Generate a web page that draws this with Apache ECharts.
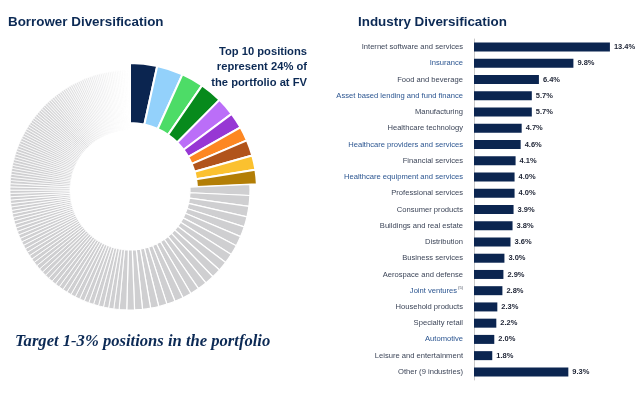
<!DOCTYPE html>
<html><head><meta charset="utf-8">
<script src="https://cdn.jsdelivr.net/npm/echarts@6/dist/echarts.min.js"></script>
<style>html,body{margin:0;padding:0;background:#fff}#c{width:640px;height:393px}</style>
</head><body><div id="c"></div>
<script>
// ---- Borrower diversification (donut) ----
const topPositions = [3.4, 3.3, 2.8, 2.8, 2.3, 2.0, 1.8, 2.0, 1.8, 1.8]; // top 10 = 24%
const topColors = ['#0b2550','#93d1fb','#4ddc67','#078a1c','#bb6ef8','#9737d4','#fd8722','#b1541b','#fbc12f','#b37e06'];
const otherPositionsA = [1.45,1.42,1.40,1.38,1.35,1.33,1.31,1.29,1.27,1.25,1.23,1.21,1.19,1.17,1.15,1.13,1.11,1.09,1.07,1.05,1.03,1.01];
const otherPositionsB = [0.70,0.69,0.68,0.68,0.67,0.66,0.65,0.65,0.64,0.63,
  0.62,0.62,0.61,0.60,0.59,0.59,0.58,0.57,0.56,0.56,
  0.55,0.54,0.54,0.53,0.52,0.52,0.51,0.50,0.50,0.49,
  0.49,0.48,0.48,0.47,0.47,0.46,0.46,0.45,0.45,0.44,
  0.44,0.43,0.43,0.42,0.42];
const otherPositionsC = [0.41,0.41,0.40,0.40,0.39,0.39,0.39,0.38,0.38,0.38,
  0.37,0.37,0.37,0.36,0.36,0.36,0.35,0.35,0.35,0.35,
  0.34,0.34,0.34,0.33,0.33,0.33,0.33,0.32,0.32,0.32,
  0.32,0.31,0.31,0.31,0.31,0.30,0.30,0.30,0.30,0.29,
  0.29,0.29,0.29,0.28,0.28,0.28,0.28,0.27,0.27,0.27,
  0.27,0.27,0.26,0.26,0.26,0.26,0.26,0.25,0.25,0.25,
  0.25,0.25,0.25,0.24,0.24,0.24,0.24,0.24,0.23,0.23,
  0.23,0.23,0.23,0.23,0.22,0.22,0.22,0.22];

// ---- Industry diversification (bars) ----
const industries = ['Internet software and services','Insurance','Food and beverage','Asset based lending and fund finance','Manufacturing','Healthcare technology','Healthcare providers and services','Financial services','Healthcare equipment and services','Professional services','Consumer products','Buildings and real estate','Distribution','Business services','Aerospace and defense','Joint ventures','Household products','Specialty retail','Automotive','Leisure and entertainment','Other (9 industries)'];
const industryShare = [13.4,9.8,6.4,5.7,5.7,4.7,4.6,4.1,4.0,4.0,3.9,3.8,3.6,3.0,2.9,2.8,2.3,2.2,2.0,1.8,9.3];
const blueLabels = ['Insurance','Asset based lending and fund finance','Healthcare providers and services','Healthcare equipment and services','Joint ventures','Automotive'];

const topSum = topPositions.reduce((a,b)=>a+b,0);
const others = otherPositionsA.concat(otherPositionsB, otherPositionsC);
const otherSum = others.reduce((a,b)=>a+b,0);
const nA = otherPositionsA.length + otherPositionsB.length;
const nC = otherPositionsC.length;
function grayStyle(i){
  if (i < nA) return {color:'#cfcfd1', borderWidth: i < otherPositionsA.length ? 1.2 : 0.9};
  const t = Math.pow((i - nA) / (nC - 1), 1.8);
  const c = Math.round(207 + (254-207)*t), d = Math.round(209 + (254-209)*t);
  return {color:'rgb(' + c + ',' + c + ',' + d + ')', borderWidth:0.7};
}
const clear = {color:'rgba(0,0,0,0)', borderWidth:0};

const pieTop = topPositions.map((v,i)=>({value:v, itemStyle:{color:topColors[i]}}));
pieTop.push({value:otherSum, itemStyle:clear});
const pieOther = [{value:topSum, itemStyle:clear}].concat(others.map((v,i)=>({value:v, itemStyle:grayStyle(i)})));

const chart = echarts.init(document.getElementById('c'), null, {renderer:'canvas'});
chart.setOption({
  animation:false,
  graphic:[
    {type:'text', left:8, top:16, style:{text:'Borrower Diversification', font:'bold 13.4px "Liberation Sans", Arial', fill:'#0c2a55'}},
    {type:'text', left:358, top:16, style:{text:'Industry Diversification', font:'bold 13.4px "Liberation Sans", Arial', fill:'#0c2a55'}},
    {type:'text', x:307, y:44, style:{text:'Top 10 positions\nrepresent 24% of\nthe portfolio at FV', textAlign:'right', font:'bold 11.2px "Liberation Sans", Arial', lineHeight:15.5, fill:'#0c2a55'}},
    {type:'text', left:15, top:333, style:{text:'Target 1-3% positions in the portfolio', font:'italic bold 16.6px "Liberation Serif", serif', fill:'#0c2a55'}}
  ],
  grid:{left:474, top:39, width:142, height:341, containLabel:false},
  xAxis:{type:'value', min:0, max:14, show:false},
  yAxis:{type:'category', data:industries, inverse:true,
    axisLine:{show:true, lineStyle:{color:'#c8c8c8', width:1}},
    axisTick:{show:false},
    axisLabel:{margin:11, fontSize:7.6, fontFamily:'"Liberation Sans", Arial',
      color:(v)=> blueLabels.indexOf(v) >= 0 ? '#2b5590' : '#3c4558',
      formatter:(v)=> v === 'Joint ventures' ? v + '{sup|(5)}' : v,
      rich:{sup:{fontSize:4, verticalAlign:'top', color:'#3c4558', padding:[0,0,6,1]}}}
  },
  series:[
    {type:'bar', data:industryShare, barWidth:9, itemStyle:{color:'#0b2550'},
     label:{show:true, position:'right', distance:4, fontSize:7.5, fontWeight:'bold', fontFamily:'"Liberation Sans", Arial', color:'#1c2233',
       formatter:(p)=> p.value.toFixed(1) + '%'}},
    {type:'pie', center:[130,190], radius:[67,127], startAngle:90, clockwise:true, silent:true,
     label:{show:false}, labelLine:{show:false}, avoidLabelOverlap:false, minAngle:0,
     itemStyle:{borderColor:'#fff', borderWidth:2}, emphasis:{disabled:true}, data:pieTop},
    {type:'pie', center:[130,190], radius:[60,120], startAngle:90, clockwise:true, silent:true,
     label:{show:false}, labelLine:{show:false}, avoidLabelOverlap:false, minAngle:0,
     itemStyle:{borderColor:'#fff', borderWidth:1}, emphasis:{disabled:true}, data:pieOther}
  ]
});
</script></body></html>
